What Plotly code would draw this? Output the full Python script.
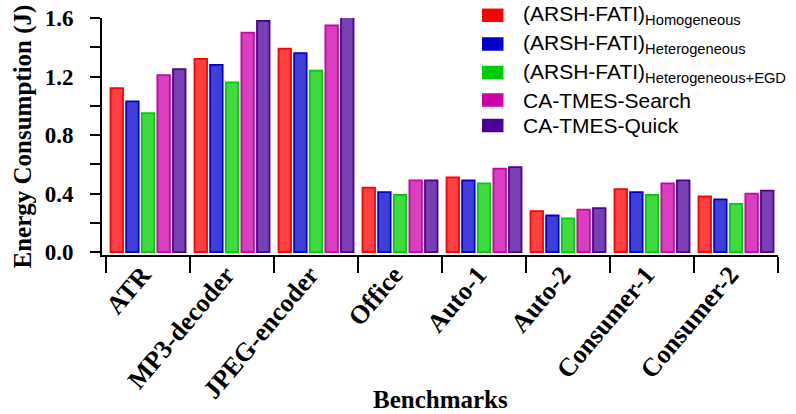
import plotly.graph_objects as go

# Benchmarks and energy consumption (J) per scheduling approach
benchmarks = ["ATR", "MP3-decoder", "JPEG-encoder", "Office",
              "Auto-1", "Auto-2", "Consumer-1", "Consumer-2"]

arsh_homogeneous = [1.12, 1.32, 1.39, 0.44, 0.51, 0.28, 0.43, 0.38]
arsh_heterogeneous = [1.03, 1.28, 1.36, 0.41, 0.49, 0.25, 0.41, 0.36]
arsh_heterogeneous_egd = [0.95, 1.16, 1.24, 0.39, 0.47, 0.23, 0.39, 0.33]
ca_tmes_search = [1.21, 1.50, 1.55, 0.49, 0.57, 0.29, 0.47, 0.40]
ca_tmes_quick = [1.25, 1.58, 1.62, 0.49, 0.58, 0.30, 0.49, 0.42]

series_values = [arsh_homogeneous, arsh_heterogeneous, arsh_heterogeneous_egd,
                 ca_tmes_search, ca_tmes_quick]
series_names = [
    "(ARSH-FATI)<sub>Homogeneous</sub>",
    "(ARSH-FATI)<sub>Heterogeneous</sub>",
    "(ARSH-FATI)<sub>Heterogeneous+EGD</sub>",
    "CA-TMES-Search",
    "CA-TMES-Quick",
]
y_tick_values = [0.0, 0.4, 0.8, 1.2, 1.6]
y_minor_values = [0.2, 0.6, 1.0, 1.4]

edge_colors = [(255, 0, 0), (0, 0, 204), (0, 204, 0), (204, 0, 170), (75, 0, 150)]

W, H = 796, 414
L, R, T, B = 102, 778, 18, 255


def px_x(px):
    return (px - L) / (R - L)


def px_y(py):
    return (B - py) / (B - T)


def hex_rgb(c):
    return "#%02x%02x%02x" % c


def fill_rgba(c, a=0.75):
    return "rgba(%d,%d,%d,%.2f)" % (c[0], c[1], c[2], a)


serif = "Liberation Serif"
sans = "Liberation Sans"

fig = go.Figure()
for name, vals, col in zip(series_names, series_values, edge_colors):
    fig.add_trace(go.Bar(
        x=benchmarks, y=vals, name=name, showlegend=False,
        marker=dict(color=fill_rgba(col), line=dict(color=hex_rgb(col), width=1.8)),
    ))

# Legend drawn as swatches and labels in the upper right
shapes = []
annotations = []
row_centers = [15.3, 44.0, 72.5, 100.0, 125.5]
for name, col, cy in zip(series_names, edge_colors, row_centers):
    shapes.append(dict(
        type="rect", xref="paper", yref="paper", layer="above",
        x0=px_x(482), x1=px_x(503.5), y0=px_y(cy + 6.75), y1=px_y(cy - 6.75),
        fillcolor=hex_rgb(col), line=dict(width=0),
    ))
    annotations.append(dict(
        text=name, xref="paper", yref="paper", x=px_x(521), y=px_y(cy),
        xanchor="left", yanchor="middle", showarrow=False,
        font=dict(family=sans, size=21, color="black"),
    ))

# Axis titles
annotations.append(dict(
    text="Energy Consumption (J)", xref="paper", yref="paper",
    x=px_x(22), y=px_y(136.5), xanchor="center", yanchor="middle",
    textangle=-90, showarrow=False,
    font=dict(family=serif, size=25, color="black", weight="bold"),
))
annotations.append(dict(
    text="Benchmarks", xref="paper", yref="paper",
    x=px_x(441), y=px_y(399), xanchor="center", yanchor="middle",
    showarrow=False,
    font=dict(family=serif, size=25, color="black", weight="bold"),
))

fig.update_layout(
    width=W, height=H, autosize=False,
    margin=dict(l=L, r=W - R, t=T, b=H - B, pad=0),
    barmode="group", bargap=0.07, bargroupgap=0.2,
    plot_bgcolor="white", paper_bgcolor="white",
    shapes=shapes, annotations=annotations,
    xaxis=dict(
        type="category", range=[-0.548, 7.5], automargin=False,
        showline=True, linecolor="black", linewidth=2,
        ticks="outside", tickson="boundaries", ticklen=16, tickwidth=2,
        tickcolor="black", tickangle=-50, showgrid=False, zeroline=False,
        ticklabelstandoff=-8, ticklabelshift=-6,
        tickfont=dict(family=serif, size=26, color="black", weight="bold"),
    ),
    yaxis=dict(
        range=[-0.02, 1.6], tickvals=y_tick_values, automargin=False,
        ticktext=["%.1f" % v for v in y_tick_values],
        showline=True, linecolor="black", linewidth=2,
        ticks="outside", ticklen=10, tickwidth=2, tickcolor="black",
        minor=dict(tickvals=y_minor_values, ticks="outside", ticklen=10,
                   tickwidth=2, tickcolor="black", showgrid=False),
        showgrid=False, zeroline=False, ticklabelstandoff=12,
        tickfont=dict(family=serif, size=23, color="black", weight="bold"),
    ),
)

fig.write_html("out.html")
